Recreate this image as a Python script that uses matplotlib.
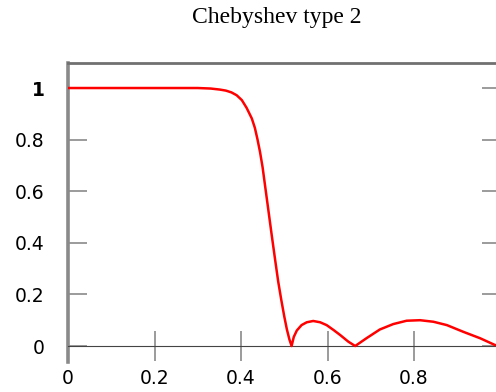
import matplotlib
matplotlib.use("Agg")
import matplotlib.pyplot as plt

# magnitude response
freq = [0, 0.1, 0.2, 0.3, 0.33, 0.351, 0.365, 0.378, 0.39, 0.402, 0.413,
        0.425, 0.432, 0.438, 0.444, 0.45, 0.456, 0.463, 0.471, 0.479, 0.486,
        0.493, 0.5, 0.506, 0.512, 0.517, 0.522, 0.529, 0.540, 0.552, 0.567,
        0.583, 0.598, 0.614, 0.629, 0.648, 0.664, 0.69, 0.721, 0.752, 0.783,
        0.814, 0.845, 0.876, 0.914, 0.953, 0.987, 1.0]
gain = [1, 1, 1, 1, 0.998, 0.994, 0.99, 0.983, 0.972, 0.953, 0.923,
        0.882, 0.846, 0.802, 0.752, 0.692, 0.617, 0.53, 0.43, 0.333, 0.25,
        0.18, 0.115, 0.065, 0.025, 0.0, 0.035, 0.06, 0.081, 0.092, 0.097,
        0.092, 0.081, 0.062, 0.043, 0.017, 0.0, 0.03, 0.064, 0.085, 0.098,
        0.10, 0.094, 0.081, 0.055, 0.03, 0.004, 0.0]

xticks = [0, 0.2, 0.4, 0.6, 0.8, 1.0]
xlabels = ["0", "0.2", "0.4", "0.6", "0.8", "1"]
yticks = [0, 0.2, 0.4, 0.6, 0.8, 1.0]
ylabels = ["0", "0.2", "0.4", "0.6", "0.8", "1"]

fig = plt.figure(figsize=(4.96, 3.92), dpi=100)
ax = fig.add_axes([68 / 496, 30 / 392, 432.5 / 496, 299 / 392])

ax.plot(freq, gain, color="#ff0000", lw=1.8, zorder=3,
        solid_joinstyle="round")

ax.set_xlim(0, 1)
ax.set_ylim(-0.062, 1.097)

ax.spines["bottom"].set_position(("data", 0))
ax.spines["bottom"].set_color("#444444")
ax.spines["bottom"].set_linewidth(0.8)
ax.spines["left"].set_color("#8a8a8a")
ax.spines["left"].set_linewidth(2.6)
ax.spines["top"].set_color("#707070")
ax.spines["top"].set_linewidth(2.0)
ax.spines["right"].set_color("#8a8a8a")
ax.spines["right"].set_linewidth(2.6)

ax.set_xticks(xticks)
ax.set_xticklabels(xlabels)
ax.set_yticks(yticks)
ax.set_yticklabels(ylabels)

ax.tick_params(axis="x", direction="inout", length=21.5, width=1.2,
               color="#8a8a8a", pad=6, labelsize=13.5)
ax.tick_params(axis="y", direction="in", length=14, width=1.2,
               color="#8a8a8a", pad=17, labelsize=13.5, right=True)
# the "1" on the y axis is drawn heavier in the original
ax.get_yticklabels()[-1].set_fontweight("bold")

fig.text(277 / 496, 1 - 18 / 392, "Chebyshev type 2", ha="center",
         va="center", family="Liberation Serif", fontsize=17)

fig.savefig("out.png", dpi=100)
